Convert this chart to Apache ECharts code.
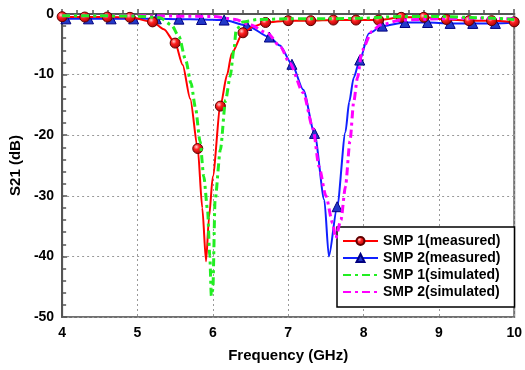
<!DOCTYPE html>
<html><head><meta charset="utf-8">
<script src="https://cdn.jsdelivr.net/npm/echarts@6/dist/echarts.min.js"></script>
<style>html,body{margin:0;padding:0;background:#fff}#c{width:525px;height:370px}</style>
</head><body><div id="c"></div>
<script>
// ---- data ----
const seriesNames = ['SMP 1(measured)', 'SMP 2(measured)', 'SMP 1(simulated)', 'SMP 2(simulated)'];
const xTicks = [4, 5, 6, 7, 8, 9, 10];
const yTicks = [0, -10, -20, -30, -40, -50];

const smp1MeasFreq = [4.0, 4.3, 4.6, 4.9, 5.2, 5.35, 5.5, 5.6, 5.7, 5.8, 5.86, 5.91, 5.95, 6.0, 6.1, 6.19, 6.25, 6.4, 6.55, 6.7, 7.0, 7.3, 7.6, 7.9, 8.2, 8.5, 8.8, 9.1, 9.4, 9.7, 10.0];
const smp1MeasS21  = [-0.45, -0.5, -0.5, -0.55, -1.3, -2.5, -4.8, -8.4, -14.0, -22.2, -32.0, -40.8, -33.5, -26.8, -15.2, -10.0, -6.5, -3.1, -2.0, -1.4, -1.1, -1.1, -1.0, -1.0, -1.0, -0.55, -0.55, -0.9, -1.1, -1.1, -1.3];

const smp2MeasFreq = [4.0, 4.05, 4.35, 4.65, 4.95, 5.25, 5.55, 5.85, 6.15, 6.45, 6.75, 6.89, 7.05, 7.2, 7.35, 7.48, 7.54, 7.65, 7.76, 7.81, 7.87, 7.95, 8.07, 8.25, 8.55, 8.85, 9.15, 9.45, 9.75, 10.0];
const smp2MeasS21  = [-0.8, -0.8, -0.8, -0.8, -0.8, -0.8, -0.85, -0.9, -1.0, -1.9, -3.8, -5.2, -8.3, -12.5, -19.7, -30.7, -40.0, -31.8, -19.5, -14.5, -10.5, -7.6, -3.2, -2.0, -1.4, -1.4, -1.55, -1.55, -1.55, -1.4];

const smp1SimFreq = [4.0, 4.5, 5.0, 5.3, 5.45, 5.55, 5.64, 5.71, 5.77, 5.83, 5.88, 5.93, 5.96, 5.98, 6.0, 6.03, 6.1, 6.17, 6.23, 6.28, 6.31, 6.4, 6.6, 7.0, 7.5, 8.0, 8.5, 9.0, 9.5, 10.0];
const smp1SimS21  = [-0.3, -0.3, -0.35, -0.6, -1.8, -3.7, -7.6, -11.4, -15.5, -21.0, -26.8, -32.3, -40.0, -46.5, -45.5, -30.7, -22.4, -14.2, -10.3, -5.9, -2.6, -1.3, -0.9, -0.8, -0.8, -0.7, -0.4, -0.4, -0.6, -0.9];

const smp2SimFreq = [4.0, 5.0, 6.0, 6.3, 6.5, 6.73, 6.9, 7.02, 7.2, 7.33, 7.41, 7.5, 7.59, 7.63, 7.7, 7.76, 7.82, 7.87, 7.92, 7.98, 8.11, 8.22, 8.5, 9.0, 9.5, 10.0];
const smp2SimS21  = [-0.3, -0.3, -0.4, -0.9, -1.8, -3.2, -5.5, -8.1, -13.0, -18.9, -25.2, -30.0, -34.5, -37.0, -34.0, -28.5, -21.0, -14.5, -10.5, -6.0, -2.9, -1.8, -1.0, -0.8, -0.7, -0.8];

// ---- build ----
function near(a, b) { return Math.abs(a - b) < 1e-6; }
function markedData(fx, fy, start) {
  return fx.map((x, i) => {
    const k = (x - start) / 0.3;
    const isMark = near(k, Math.round(k)) && x >= start - 1e-9;
    return isMark ? [x, fy[i]] : { value: [x, fy[i]], symbol: 'none' };
  });
}
const pairs = (fx, fy) => fx.map((x, i) => [x, fy[i]]);

const chart = echarts.init(document.getElementById('c'), null, { renderer: 'canvas' });
const font = 'Arial, "Liberation Sans", sans-serif';
const redBall = {
  type: 'radial', x: 0.38, y: 0.35, r: 0.7,
  colorStops: [{ offset: 0, color: '#ffd0d0' }, { offset: 0.35, color: '#ff2020' }, { offset: 1, color: '#a00000' }]
};
chart.setOption({
  animation: false,
  backgroundColor: '#fff',
  grid: { left: 60, right: 8, top: 14, bottom: 53, show: true, borderColor: '#707070', borderWidth: 2, backgroundColor: 'transparent' },
  xAxis: {
    type: 'value', min: 4, max: 10, interval: 1,
    name: 'Frequency (GHz)', nameLocation: 'middle', nameGap: 31,
    nameTextStyle: { fontFamily: font, fontWeight: 'bold', fontSize: 15, color: '#000' },
    axisLine: { lineStyle: { color: '#555', width: 2 } },
    axisTick: { inside: true, length: 5, lineStyle: { color: '#555', width: 1.5 } },
    minorTick: { show: true, splitNumber: 5, length: 4, lineStyle: { color: '#555', width: 1.5 } },
    splitLine: { show: true, lineStyle: { color: '#999', type: [2, 3], width: 1 } },
    axisLabel: { fontFamily: font, fontWeight: 'bold', fontSize: 14, color: '#000', margin: 9,
      formatter: v => xTicks.includes(v) ? String(v) : '' }
  },
  yAxis: {
    type: 'value', min: -50, max: 0, interval: 10,
    name: 'S21 (dB)', nameLocation: 'middle', nameGap: 35, nameRotate: 90,
    nameTextStyle: { fontFamily: font, fontWeight: 'bold', fontSize: 15, color: '#000' },
    axisLine: { lineStyle: { color: '#555', width: 2 } },
    axisTick: { inside: true, length: 5, lineStyle: { color: '#555', width: 1.5 } },
    minorTick: { show: true, splitNumber: 5, length: 4, lineStyle: { color: '#555', width: 1.5 } },
    splitLine: { show: true, lineStyle: { color: '#999', type: [2, 3], width: 1 } },
    axisLabel: { fontFamily: font, fontWeight: 'bold', fontSize: 14, color: '#000', margin: 8,
      formatter: v => yTicks.includes(v) ? String(v) : '' }
  },
  legend: {
    orient: 'vertical', left: 337, top: 227,
    backgroundColor: '#fff', borderColor: '#000', borderWidth: 1.5, borderRadius: 0,
    padding: [7, 14, 8, 5], itemGap: 3, itemWidth: 35, itemHeight: 10,
    textStyle: { fontFamily: font, fontWeight: 'bold', fontSize: 14, color: '#000' },
    data: [
      { name: seriesNames[0] },
      { name: seriesNames[1] },
      { name: seriesNames[2], itemStyle: { opacity: 0 } },
      { name: seriesNames[3], itemStyle: { opacity: 0 } }
    ]
  },
  series: [
    {
      name: seriesNames[1], type: 'line', z: 3,
      data: markedData(smp2MeasFreq, smp2MeasS21, 4.05),
      smooth: 0.25, smoothMonotone: 'x', showAllSymbol: true,
      symbol: 'triangle', symbolSize: 10,
      lineStyle: { color: '#1020ff', width: 2 },
      itemStyle: { color: '#2238c8', borderColor: '#000080', borderWidth: 1 }
    },
    {
      name: seriesNames[0], type: 'line', z: 4,
      data: markedData(smp1MeasFreq, smp1MeasS21, 4.0),
      smooth: 0.25, smoothMonotone: 'x', showAllSymbol: true,
      symbol: 'circle', symbolSize: 10,
      lineStyle: { color: '#ff0000', width: 2 },
      itemStyle: { color: redBall, borderColor: '#600000', borderWidth: 1 }
    },
    {
      name: seriesNames[3], type: 'line', z: 5,
      data: pairs(smp2SimFreq, smp2SimS21),
      smooth: 0.25, smoothMonotone: 'x', symbol: 'none',
      lineStyle: { color: '#ff00ff', width: 3, type: [8, 4, 3, 4] },
      itemStyle: { color: '#ff00ff' }
    },
    {
      name: seriesNames[2], type: 'line', z: 5,
      data: pairs(smp1SimFreq, smp1SimS21),
      smooth: 0.25, smoothMonotone: 'x', symbol: 'none',
      lineStyle: { color: '#22ee22', width: 3, type: [8, 4, 3, 4] },
      itemStyle: { color: '#22ee22' }
    }
  ]
});
</script></body></html>
